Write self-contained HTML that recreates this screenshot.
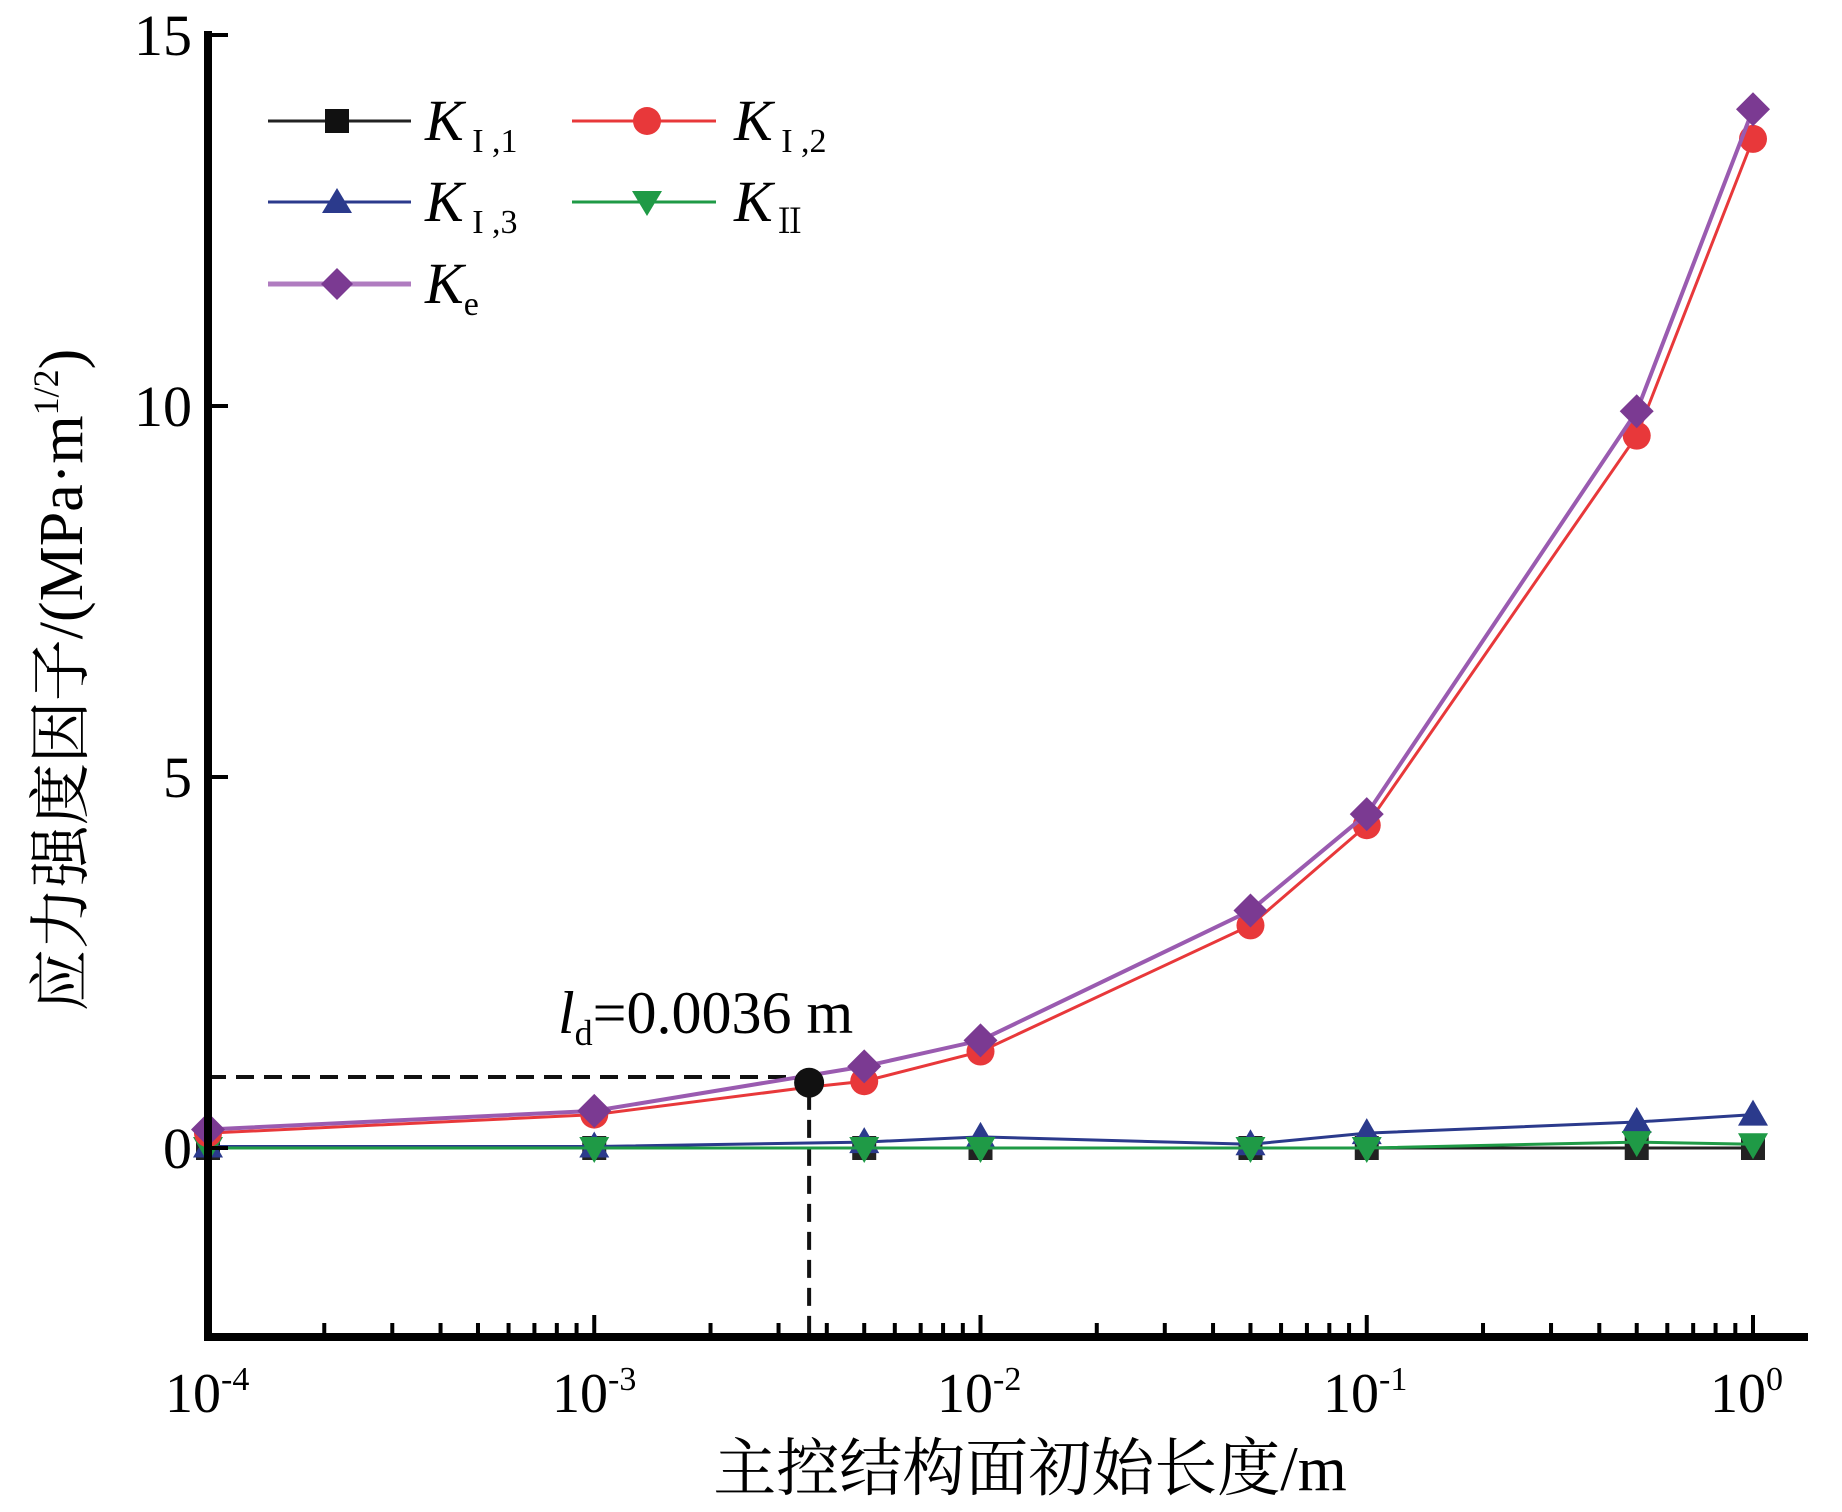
<!DOCTYPE html>
<html><head><meta charset="utf-8"><style>
html,body{margin:0;padding:0;background:#fff;width:1842px;height:1512px;overflow:hidden}
svg text{font-family:"Liberation Serif","Noto Serif CJK SC",serif;fill:#000}
</style></head><body>
<svg id="s" width="1842" height="1512" viewBox="0 0 1842 1512" xmlns="http://www.w3.org/2000/svg">
<g id="plot"></g>
<line x1="208" y1="31" x2="208" y2="1341" stroke="#000" stroke-width="8"/>
<line x1="204" y1="1337" x2="1808" y2="1337" stroke="#000" stroke-width="8"/>
<g id="ticks" stroke="#000" stroke-width="4"></g>
<g font-size="58" text-anchor="end">
<text x="192" y="55">15</text>
<text x="192" y="426">10</text>
<text x="192" y="797">5</text>
<text x="192" y="1168">0</text>
</g>
<g font-size="56">
<text x="165" y="1412">10<tspan font-size="34" dy="-22">-4</tspan></text>
<text x="552" y="1412">10<tspan font-size="34" dy="-22">-3</tspan></text>
<text x="937" y="1412">10<tspan font-size="34" dy="-22">-2</tspan></text>
<text x="1323" y="1412">10<tspan font-size="34" dy="-22">-1</tspan></text>
<text x="1710" y="1412">10<tspan font-size="34" dy="-22">0</tspan></text>
</g>
<text x="1030" y="1490" font-size="63" text-anchor="middle">主控结构面初始长度/m</text>
<text transform="translate(82,680) rotate(-90)" font-size="62" text-anchor="middle">应力强度因子/(MPa·m<tspan font-size="36" dy="-24">1/2</tspan><tspan dy="24">)</tspan></text>
<text x="558" y="1033" font-size="60"><tspan font-style="italic">l</tspan><tspan font-size="36" dy="12">d</tspan><tspan dy="-12">=0.0036 m</tspan></text>
<g stroke-width="3">
<line x1="268" y1="121" x2="411" y2="121" stroke="#222"/>
<rect x="325" y="109" width="24" height="24" fill="#111"/>
<line x1="572" y1="121" x2="716" y2="121" stroke="#e8383a"/>
<circle cx="647" cy="121" r="14" fill="#e8383a"/>
<line x1="268" y1="202" x2="411" y2="202" stroke="#2b3a8c"/>
<polygon points="337,188 352,213 322,213" fill="#2b3a8c"/>
<line x1="572" y1="202" x2="716" y2="202" stroke="#1f9a46"/>
<polygon points="647,216 632,191 662,191" fill="#1f9a46"/>
<line x1="268" y1="284" x2="411" y2="284" stroke="#b07cc0" stroke-width="5"/>
<polygon points="337,268 353,284 337,300 321,284" fill="#7b3a92"/>
</g>
<g font-size="58" font-style="italic">
<text x="425" y="140">K<tspan font-style="normal" font-size="34" dy="12"> I ,1</tspan></text>
<text x="734" y="140">K<tspan font-style="normal" font-size="34" dy="12"> I ,2</tspan></text>
<text x="425" y="221">K<tspan font-style="normal" font-size="34" dy="12"> I ,3</tspan></text>
<text x="734" y="221">K<tspan font-style="normal" font-size="34" dy="12">Ⅱ</tspan></text>
<text x="425" y="303">K<tspan font-style="normal" font-size="34" dy="12">e</tspan></text>
</g>
</svg>
<script>
var NS="http://www.w3.org/2000/svg";
function X(v){return 208+(Math.log10(v)+4)*386.25;}
function Y(v){return 1148-v*74.2;}
var xs=[1e-4,1e-3,0.005,0.01,0.05,0.1,0.5,1];
var g=document.getElementById('plot');
function el(t,a){var e=document.createElementNS(NS,t);for(var k in a)e.setAttribute(k,a[k]);g.appendChild(e);return e;}
el('polyline',{points:"208,1077 "+X(0.0036)+",1077 "+X(0.0036)+",1337",fill:"none",stroke:"#111","stroke-width":4,"stroke-dasharray":"18,10"});
var series=[
 {c:"#222",y:[0,0,0,0,0,0,0,0],m:"sq"},
 {c:"#2b3a8c",y:[0.02,0.02,0.08,0.15,0.05,0.2,0.35,0.45],m:"tri"},
 {c:"#1f9a46",y:[0,0,0,0,0,0,0.08,0.05],m:"itri"},
 {c:"#e8383a",y:[0.2,0.45,0.9,1.3,3.0,4.35,9.6,13.6],m:"ci"},
 {c:"#7b3a92",y:[0.25,0.5,1.1,1.45,3.2,4.5,9.93,14.0],m:"di",lc:"#9a5bb0"}
];
series.forEach(function(s){
 var pts=xs.map(function(x,i){return X(x)+","+Y(s.y[i]);});
 if(s.m=="ci"){pts.splice(2,0,X(0.0036)+","+Y(0.82));}
 el('polyline',{points:pts.join(" "),fill:"none",stroke:s.lc||s.c,"stroke-width":s.m=="di"?4:3});
 xs.forEach(function(x,i){var cx=X(x),cy=Y(s.y[i]);
  if(s.m=="sq")el('rect',{x:cx-12,y:cy-12,width:24,height:24,fill:s.c});
  else if(s.m=="tri")el('polygon',{points:cx+","+(cy-15)+" "+(cx+15)+","+(cy+11)+" "+(cx-15)+","+(cy+11),fill:s.c});
  else if(s.m=="itri")el('polygon',{points:cx+","+(cy+15)+" "+(cx+15)+","+(cy-11)+" "+(cx-15)+","+(cy-11),fill:s.c});
  else if(s.m=="ci")el('circle',{cx:cx,cy:cy,r:14,fill:s.c});
  else el('polygon',{points:cx+","+(cy-17)+" "+(cx+17)+","+cy+" "+cx+","+(cy+17)+" "+(cx-17)+","+cy,fill:s.c});
 });
});
el('circle',{cx:X(0.0036),cy:Y(0.88),r:15,fill:"#111"});
var t=document.getElementById('ticks');
function ln(a,b,c,d){var e=document.createElementNS(NS,'line');e.setAttribute('x1',a);e.setAttribute('y1',b);e.setAttribute('x2',c);e.setAttribute('y2',d);t.appendChild(e);}
for(var d=-4;d<=0;d++){ln(X(Math.pow(10,d)),1337,X(Math.pow(10,d)),1315);
 if(d<0)for(var k=2;k<=9;k++){var x=X(k*Math.pow(10,d));ln(x,1337,x,1323);}}
[0,5,10,15].forEach(function(v){ln(208,Y(v),228,Y(v));});
</script>
</body></html>
